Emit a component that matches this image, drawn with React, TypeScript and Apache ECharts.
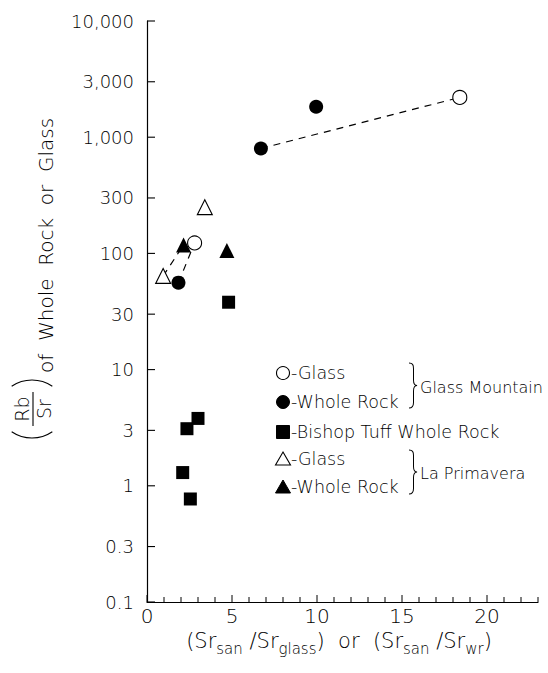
import React, { useEffect, useRef } from "react";
import * as echarts from "echarts";

// ---- data ----
const gmGlass: number[][] = [[18.4, 2200], [2.8, 123]];
const gmWhole: number[][] = [[6.7, 800], [9.95, 1830], [1.85, 56]];
const bishopTuff: number[][] = [[4.8, 38], [3.0, 3.8], [2.35, 3.1], [2.1, 1.3], [2.55, 0.77]];
const lpGlass: number[][] = [[3.4, 250], [0.95, 64]];
const lpWhole: number[][] = [[4.7, 106], [2.15, 118]];

// dashed tie lines (pairs of points)
const tieLines: number[][][] = [
  [[6.7, 800], [18.4, 2200]],
  [[0.95, 64], [2.15, 118]],
  [[1.85, 56], [2.8, 123]],
];

const yTickValues = [0.1, 0.3, 1, 3, 10, 30, 100, 300, 1000, 3000, 10000];
const yTickLabels = ["0.1", "0.3", "1", "3", "10", "30", "100", "300", "1,000", "3,000", "10,000"];
const xLabelValues = [0, 5, 10, 15, 20];
const xTickValues = Array.from({ length: 24 }, (_, i) => i);

const FONT = "DejaVu Sans";
const FW = 200;
const INK = "#000";

const braceD = "M0,0 C4,0 5,2 5,6 L5,18 C5,22 6,24 9,24 C6,24 5,26 5,30 L5,42 C5,46 4,48 0,48";

const lg = (v: number[][]) => v.map((p) => [p[0], Math.log10(p[1])]);

export default function App() {
  const ref = useRef<HTMLDivElement>(null);
  useEffect(() => {
    echarts.graphic.registerShape("brace", echarts.graphic.extendPath(braceD, {}) as any);
    const chart = echarts.init(ref.current!, null, { renderer: "svg" });

    const openStyle = { color: "#fff", borderColor: INK, borderWidth: 1.1, opacity: 1 };
    const fillStyle = { color: INK, opacity: 1 };

    const txt = (x: number, y: number, text: string, size = 17, extra: any = {}) => ({
      type: "text",
      x,
      y,
      style: { text, fontFamily: FONT, fontWeight: FW, fontSize: size, fill: INK, verticalAlign: "middle", ...extra },
    });

    const legendRows = [
      { y: 373, sym: "circle", open: true, label: "-Glass" },
      { y: 402, sym: "circle", open: false, label: "-Whole Rock" },
      { y: 432, sym: "rect", open: false, label: "-Bishop Tuff Whole Rock" },
      { y: 459, sym: "triangle", open: true, label: "-Glass" },
      { y: 487, sym: "triangle", open: false, label: "-Whole Rock" },
    ];
    const mx = 283;
    const legendGraphics: any[] = [];
    legendRows.forEach((r) => {
      const st = r.open
        ? { fill: "#fff", stroke: INK, lineWidth: 1.1 }
        : { fill: INK, stroke: INK, lineWidth: 1 };
      if (r.sym === "circle") {
        legendGraphics.push({ type: "circle", shape: { cx: mx, cy: r.y, r: 6.5 }, style: st });
      } else if (r.sym === "rect") {
        legendGraphics.push({ type: "rect", shape: { x: mx - 6.5, y: r.y - 6.5, width: 13, height: 13 }, style: st });
      } else {
        legendGraphics.push({
          type: "polygon",
          shape: { points: [[mx, r.y - 7], [mx + 7.5, r.y + 6], [mx - 7.5, r.y + 6]] },
          style: st,
        });
      }
      legendGraphics.push(txt(291, r.y, r.label, 17.5));
    });
    legendGraphics.push({
      type: "brace", x: 409, y: 363, scaleX: 0.9, scaleY: 45 / 48,
      style: { fill: null, stroke: INK, lineWidth: 1.1 },
    });
    legendGraphics.push(txt(420, 387, "Glass Mountain", 16));
    legendGraphics.push({
      type: "brace", x: 409, y: 450, scaleX: 0.9, scaleY: 44 / 48,
      style: { fill: null, stroke: INK, lineWidth: 1.1 },
    });
    legendGraphics.push(txt(420, 473, "La Primavera", 16));

    // y-axis title (rotated group)
    const yTitle = {
      type: "group",
      x: 0,
      y: 438,
      rotation: Math.PI / 2,
      children: [
        { type: "arc", shape: { cx: 36, cy: 32, r: 36, startAngle: Math.PI - 0.6, endAngle: Math.PI + 0.6 }, style: { stroke: INK, lineWidth: 1.1, fill: null } },
        { type: "arc", shape: { cx: 22, cy: 32, r: 36, startAngle: -0.6, endAngle: 0.6 }, style: { stroke: INK, lineWidth: 1.1, fill: null } },
        { type: "text", x: 29, y: 22, style: { text: "Rb", fontFamily: FONT, fontWeight: FW, fontSize: 19, fill: INK, align: "center", verticalAlign: "middle" } },
        { type: "line", shape: { x1: 12, y1: 33, x2: 46, y2: 33 }, style: { stroke: INK, lineWidth: 1.1 } },
        { type: "text", x: 29, y: 44, style: { text: "Sr", fontFamily: FONT, fontWeight: FW, fontSize: 19, fill: INK, align: "center", verticalAlign: "middle" } },
        { type: "text", x: 65, y: 46, style: { text: "of  Whole  Rock  or  Glass", fontFamily: FONT, fontWeight: FW, fontSize: 20, fill: INK, verticalAlign: "middle" } },
      ],
    };

    // x-axis title
    const xTitle = {
      type: "text",
      x: 339,
      y: 641,
      style: {
        text: "{a|(Sr}{s|san}{a| /Sr}{s|glass}{a|)  or  (Sr}{s|san}{a| /Sr}{s|wr}{a|)}",
        align: "center",
        verticalAlign: "middle",
        rich: {
          a: { fontFamily: FONT, fontWeight: FW, fontSize: 21, fill: INK, lineHeight: 30, verticalAlign: "middle" },
          s: { fontFamily: FONT, fontWeight: FW, fontSize: 15, fill: INK, lineHeight: 30, verticalAlign: "bottom" },
        },
      },
    };

    const scatter = (name: string, data: number[][], symbol: string, size: number, style: any) => ({
      type: "scatter",
      name,
      data: lg(data),
      symbol,
      symbolSize: size,
      itemStyle: style,
      z: 5,
      silent: true,
    });

    const tickSeries = (vals: number[][], horizontal: boolean) => ({
      type: "custom",
      silent: true,
      clip: false,
      z: 4,
      data: vals,
      renderItem: (params: any, api: any) => {
        const p = api.coord([api.value(0), api.value(1)]);
        if (horizontal) {
          return { type: "line", shape: { x1: p[0], y1: p[1], x2: p[0] + 8, y2: p[1] }, style: { stroke: INK, lineWidth: 1.1 } };
        }
        const len = api.value(0) % 5 === 0 ? 7 : 5;
        return { type: "line", shape: { x1: p[0], y1: p[1], x2: p[0], y2: p[1] - len }, style: { stroke: INK, lineWidth: 1 } };
      },
    });

    chart.setOption({
      animation: false,
      grid: { left: 147, right: 10, top: 21, bottom: 71 },
      xAxis: {
        type: "value",
        min: 0,
        max: 23,
        interval: 5,
        axisLine: { show: true, onZero: false, lineStyle: { color: INK, width: 1.2 } },
        axisTick: { show: false },
        axisLabel: { customValues: xLabelValues, color: INK, fontFamily: FONT, fontWeight: FW, fontSize: 20, margin: 5, lineHeight: 18 },
        splitLine: { show: false },
      },
      yAxis: {
        type: "value",
        min: -1,
        max: 4,
        axisLine: { show: true, onZero: false, lineStyle: { color: INK, width: 1.2 } },
        axisTick: { show: false },
        axisLabel: {
          customValues: yTickValues.map((v) => Math.log10(v)),
          color: INK,
          fontFamily: FONT,
          fontWeight: FW,
          fontSize: 18,
          margin: 13,
          formatter: (val: number) => {
            const i = yTickValues.findIndex((v) => Math.abs(Math.log10(v) - val) < 1e-6);
            return i >= 0 ? yTickLabels[i] : "";
          },
        },
        splitLine: { show: false },
      },
      series: [
        ...tieLines.map((seg) => ({
          type: "line",
          data: lg(seg),
          symbol: "none",
          silent: true,
          z: 2,
          lineStyle: { color: INK, width: 1.2, type: [7, 6] },
        })),
        tickSeries(xTickValues.map((v) => [v, -1]), false),
        tickSeries(yTickValues.map((v) => [0, Math.log10(v)]), true),
        scatter("Glass Mountain Glass", gmGlass, "circle", 14, openStyle),
        scatter("Glass Mountain Whole Rock", gmWhole, "circle", 14, fillStyle),
        scatter("Bishop Tuff Whole Rock", bishopTuff, "rect", 13, fillStyle),
        scatter("La Primavera Glass", lpGlass, "triangle", 15, openStyle),
        scatter("La Primavera Whole Rock", lpWhole, "triangle", 15, fillStyle),
      ],
      graphic: [...legendGraphics, yTitle, xTitle],
    });
    return () => chart.dispose();
  }, []);
  return <div ref={ref} style={{ position: "fixed", left: 0, top: 0, width: 548, height: 673, background: "#fff" }} />;
}
